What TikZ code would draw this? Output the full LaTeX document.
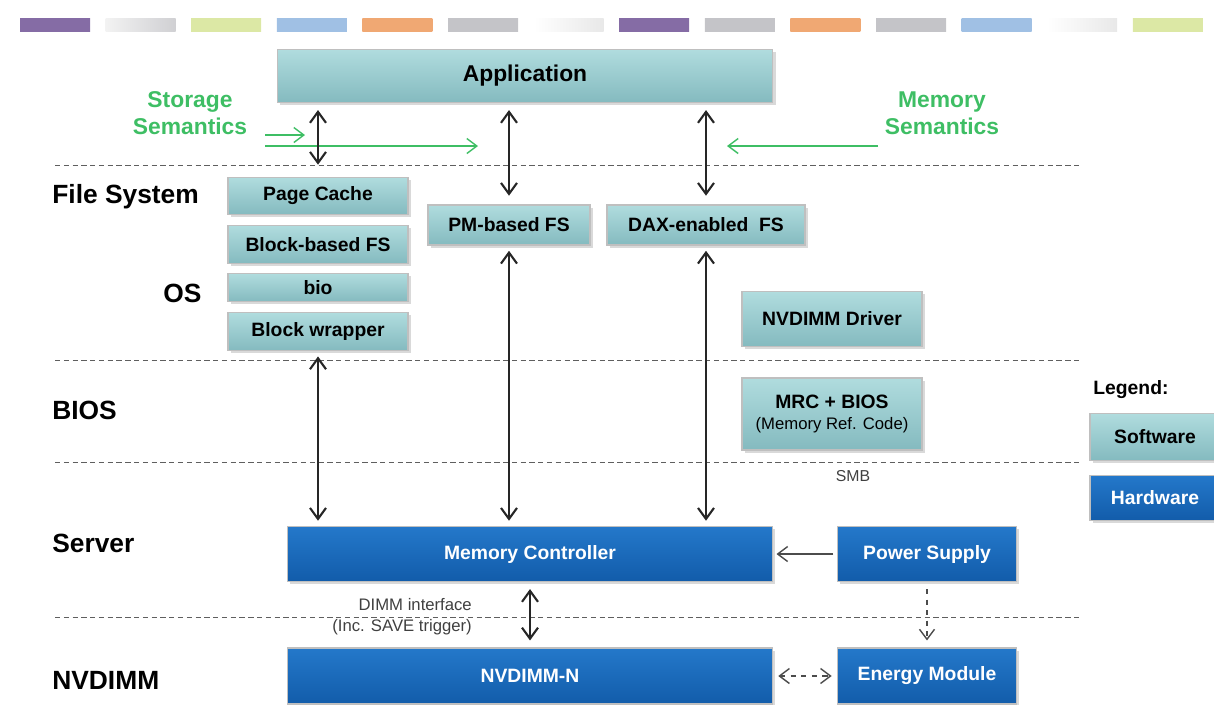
\documentclass[tikz,border=0pt]{standalone}
\usepackage{fontspec}
\setmainfont{Liberation Sans}
\usetikzlibrary{arrows.meta,positioning,shadows}
\definecolor{swtop}{RGB}{176,220,222}
\definecolor{swbot}{RGB}{132,186,191}
\definecolor{hwtop}{RGB}{36,120,202}
\definecolor{hwbot}{RGB}{18,92,170}
\definecolor{semgreen}{RGB}{62,190,100}
\definecolor{sepgray}{RGB}{95,95,95}
\definecolor{barpurple}{RGB}{133,108,165}
\definecolor{barlight}{RGB}{232,232,232}
\definecolor{bargray}{RGB}{196,196,200}
\definecolor{baryellow}{RGB}{220,232,165}
\definecolor{barblue}{RGB}{160,192,228}
\definecolor{barorange}{RGB}{240,168,115}

\begin{document}
\begin{tikzpicture}[
  x=0.02cm, y=-0.02cm,
  node distance=0.2cm,
  sw/.style={rectangle, draw=white!75!black, line width=0.6pt, top color=swtop, bottom color=swbot, drop shadow={opacity=0.3, shadow xshift=1.5pt, shadow yshift=-1.5pt}, inner sep=0pt, align=center, font=\bfseries\fontsize{11}{13}\selectfont},
  hw/.style={sw, top color=hwtop, bottom color=hwbot, text=white},
  layer/.style={anchor=west, inner sep=0pt, font=\bfseries\fontsize{15}{17}\selectfont},
  sem/.style={align=center, text=semgreen, font=\bfseries\fontsize{13}{15.5}\selectfont},
  note/.style={text=black!75, font=\fontsize{9.5}{12}\selectfont},
  dbl/.style={{Straight Barb[length=2.2mm,width=3.2mm]}-{Straight Barb[length=2.2mm,width=3.2mm]}, line width=1.2pt, black!85},
  garrow/.style={-{Straight Barb[length=2mm,width=3mm]}, line width=0.8pt, semgreen},
  sep/.style={sepgray, dashed, dash pattern=on 3pt off 2pt, line width=0.5pt}
]
\useasboundingbox (0,0) rectangle (1214,704);

% colour strip on top
\foreach \lc/\rc [count=\i from 0] in {barpurple/barpurple, white!95!black/bargray!80, baryellow/baryellow, barblue/barblue, barorange/barorange, bargray/bargray, white/barlight, barpurple/barpurple, bargray/bargray, barorange/barorange, bargray/bargray, barblue/barblue, white/barlight, baryellow/baryellow}
  \shade[left color=\lc, right color=\rc] (20+85.6*\i,18) rectangle ++(70,13);

% layer separators
\foreach \y in {165,360,462,617}
  \draw[sep] (55,\y) -- (1080,\y);

% layer names
\node[layer] (fslbl) at (52,197) {File System};
\node[layer] (oslbl) at (163,293) {OS};
\node[layer] (bioslbl) at (52,410) {BIOS};
\node[layer] (srvlbl) at (52,543) {Server};
\node[layer] (nvlbl) at (52,680) {NVDIMM};

% software
\node[sw, minimum width=9.92cm, minimum height=1.06cm, font=\bfseries\fontsize{13}{15}\selectfont] (app) at (525,76) {Application};
\node[sw, minimum width=3.6cm, minimum height=0.74cm] (pagecache) at (318,196) {Page Cache};
\node[sw, minimum width=3.6cm, minimum height=0.76cm, below=0.2cm of pagecache] (blockfs) {Block-based FS};
\node[sw, minimum width=3.6cm, minimum height=0.56cm, below=0.18cm of blockfs] (bio) {bio};
\node[sw, minimum width=3.6cm, minimum height=0.76cm, below=0.2cm of bio] (wrapper) {Block wrapper};
\node[sw, minimum width=3.24cm, minimum height=0.8cm] (pmfs) at (509,225) {PM-based FS};
\node[sw, minimum width=3.96cm, minimum height=0.8cm] (daxfs) at (706,225) {DAX-enabled~~FS};
\node[sw, minimum width=3.6cm, minimum height=1.1cm] (driver) at (832,319) {NVDIMM Driver};
\node[sw, minimum width=3.6cm, minimum height=1.44cm] (mrc) at (832,414) {MRC + BIOS\\[-1pt]{\mdseries\fontsize{9.5}{11}\selectfont(Memory Ref. Code)}};

% hardware
\node[hw, minimum width=9.7cm, minimum height=1.1cm] (memctl) at (530,554) {Memory Controller};
\node[hw, minimum width=3.58cm, minimum height=1.1cm] (power) at (927,554) {Power Supply};
\node[hw, minimum width=9.7cm, minimum height=1.12cm] (nvdimm) at (530,676) {NVDIMM-N};
\node[hw, minimum width=3.58cm, minimum height=1.12cm] (energy) at (927,676) {Energy Module};

% legend
\node[anchor=west, inner sep=0pt, font=\bfseries\fontsize{11}{13}\selectfont] (legend) at (1093,390) {Legend:};
\node[sw, minimum width=2.6cm, minimum height=0.94cm] (lgsw) at (1155,437) {Software};
\node[hw, minimum width=2.6cm, minimum height=0.9cm] (lghw) at (1155,498) {Hardware};

% semantics
\node[sem] (storsem) at (190,113) {Storage\\Semantics};
\node[sem] (memsem) at (942,113) {Memory\\Semantics};
\coordinate (s1a) at (265,135);
\coordinate (s1b) at (305,135);
\coordinate (s2a) at (265,146);
\coordinate (s2b) at (478,146);
\coordinate (m1a) at (878,146);
\coordinate (m1b) at (727,146);
\draw[garrow] (s1a) -- (s1b);
\draw[garrow] (s2a) -- (s2b);
\draw[garrow] (m1a) -- (m1b);

% small notes
\node[note, font=\fontsize{9}{11}\selectfont] (smb) at (853,476) {SMB};
\node[note, anchor=east, align=right] (dimmif) at (478,617) {DIMM interface\\(Inc. SAVE trigger)};

% connections
\draw[dbl, shorten <=4pt, shorten >=7pt] (app.south -| pagecache.north) -- (pagecache.north);
\draw[dbl, shorten <=4pt, shorten >=5pt] (app.south -| pmfs.north) -- (pmfs.north);
\draw[dbl, shorten <=4pt, shorten >=5pt] (app.south -| daxfs.north) -- (daxfs.north);
\draw[dbl, shorten <=3pt, shorten >=3pt] (wrapper.south) -- (wrapper.south |- memctl.north);
\draw[dbl, shorten <=3pt, shorten >=3pt] (pmfs.south) -- (pmfs.south |- memctl.north);
\draw[dbl, shorten <=3pt, shorten >=3pt] (daxfs.south) -- (daxfs.south |- memctl.north);
\draw[dbl, shorten <=4pt, shorten >=4pt] (memctl.south) -- (nvdimm.north);
\draw[-{Straight Barb[length=2mm,width=3mm]}, line width=0.8pt, black!70, shorten <=2pt, shorten >=2pt] (power.west) -- (memctl.east);
\draw[-{Straight Barb[length=2mm,width=3mm]}, line width=0.8pt, black!70, dashed, shorten <=4pt, shorten >=4pt] (power.south) -- (energy.north);
\draw[{Straight Barb[length=2mm,width=3mm]}-{Straight Barb[length=2mm,width=3mm]}, line width=0.8pt, black!70, dashed, shorten <=3pt, shorten >=3pt] (nvdimm.east) -- (energy.west);
\end{tikzpicture}
\end{document}
